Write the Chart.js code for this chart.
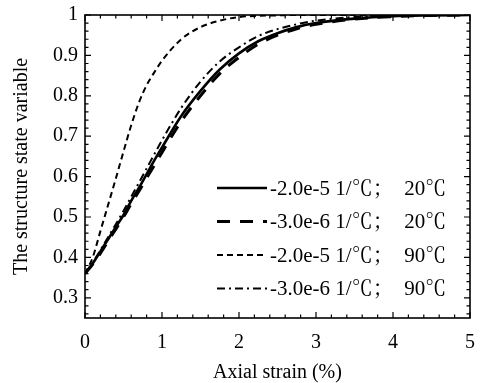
<!DOCTYPE html>
<html>
<head>
<meta charset="utf-8">
<script src="https://cdn.jsdelivr.net/npm/chart.js@4/dist/chart.umd.min.js"></script>
<style>
  html, body { margin: 0; padding: 0; background: #fff; }
  #wrap { width: 480px; height: 383px; }
</style>
</head>
<body>
<div id="wrap"><canvas id="myChart" width="480" height="383"></canvas></div>
<script>
'use strict';

// axial strain (%) sample points shared by all curves
var strain = [0, 0.1, 0.2, 0.3, 0.4, 0.5, 0.6, 0.7, 0.8, 0.9, 1.0,
  1.25, 1.5, 1.75, 2.0, 2.25, 2.5, 2.75, 3.0, 3.5, 4.0, 4.5, 5.0];

// structure state variable
var s20a = [0.36, 0.385, 0.415, 0.445, 0.475, 0.505, 0.54, 0.572, 0.606, 0.64, 0.672,
  0.75, 0.812, 0.865, 0.905, 0.935, 0.955, 0.97, 0.98, 0.991, 0.997, 0.999, 1.0];
var s20b = [0.36, 0.383, 0.41, 0.44, 0.47, 0.5, 0.533, 0.564, 0.596, 0.628, 0.66,
  0.737, 0.8, 0.855, 0.895, 0.928, 0.95, 0.966, 0.977, 0.99, 0.996, 0.999, 1.0];
var s90a = [0.36, 0.4, 0.465, 0.53, 0.595, 0.662, 0.727, 0.783, 0.826, 0.858, 0.887,
  0.94, 0.97, 0.986, 0.995, 0.998, 0.999, 1.0, 1.0, 1.0, 1.0, 1.0, 1.0];
var s90b = [0.36, 0.387, 0.418, 0.45, 0.482, 0.515, 0.55, 0.585, 0.62, 0.655, 0.69,
  0.77, 0.835, 0.885, 0.92, 0.948, 0.965, 0.977, 0.986, 0.995, 0.998, 1.0, 1.0];

var labels = ['-2.0e-5 1/℃；  20℃', '-3.0e-6 1/℃；  20℃', '-2.0e-5 1/℃；  90℃', '-3.0e-6 1/℃；  90℃'];
var xTicks = [0, 1, 2, 3, 4, 5];
var yTicks = [0.3, 0.4, 0.5, 0.6, 0.7, 0.8, 0.9, 1.0];

var SERIF = "'Liberation Serif', 'Times New Roman', 'Noto Serif CJK SC', 'Noto Sans CJK SC', serif";

function pts(ys) {
  return strain.map(function (x, i) { return { x: x, y: ys[i] }; });
}

function line(label, ys, dash, width) {
  return {
    label: label,
    data: pts(ys),
    borderColor: '#000',
    borderWidth: width,
    borderDash: dash,
    pointRadius: 0,
    fill: false,
    cubicInterpolationMode: 'monotone'
  };
}

// frame + inward major/minor ticks on all four sides
var frameTicks = {
  id: 'frameTicks',
  afterDraw: function (chart) {
    var ctx = chart.ctx;
    var a = chart.chartArea;
    var xs = chart.scales.x, ys = chart.scales.y;
    var i, p, major;
    ctx.save();
    ctx.strokeStyle = '#000';
    ctx.lineWidth = 1.2;
    ctx.setLineDash([]);
    ctx.beginPath();
    for (i = 0; i <= 25; i++) {
      p = xs.getPixelForValue(i * 0.2);
      major = i % 5 === 0;
      var lx = major ? 6 : 3.5;
      ctx.moveTo(p, a.bottom); ctx.lineTo(p, a.bottom - lx);
      ctx.moveTo(p, a.top); ctx.lineTo(p, a.top + lx);
    }
    for (i = 0; i <= 37; i++) {
      var v = 0.26 + i * 0.02;
      p = ys.getPixelForValue(v);
      major = Math.abs(Math.round(v * 10) - v * 10) < 1e-6;
      var ly = major ? 6 : 3.5;
      ctx.moveTo(a.left, p); ctx.lineTo(a.left + ly, p);
      ctx.moveTo(a.right, p); ctx.lineTo(a.right - ly, p);
    }
    ctx.stroke();
    ctx.lineWidth = 1.6;
    ctx.strokeRect(a.left, a.top, a.right - a.left, a.bottom - a.top);
    ctx.restore();
  }
};

// legend drawn inside the plot, lower right
var insideLegend = {
  id: 'insideLegend',
  afterDatasetsDraw: function (chart) {
    var ctx = chart.ctx;
    var a = chart.chartArea;
    var x0 = a.right - 253, x1 = a.right - 203, tx = a.right - 200;
    ctx.save();
    ctx.font = '21px ' + SERIF;
    ctx.fillStyle = '#000';
    ctx.textBaseline = 'middle';
    chart.data.datasets.forEach(function (ds, i) {
      var y = a.bottom - 130 + i * 33.5;
      ctx.strokeStyle = '#000';
      ctx.lineWidth = ds.borderWidth;
      ctx.setLineDash(ds.borderDash);
      ctx.beginPath();
      ctx.moveTo(x0, y);
      ctx.lineTo(x1, y);
      ctx.stroke();
      ctx.fillText(ds.label, tx, y + 1);
    });
    ctx.restore();
  }
};

var ctx = document.getElementById('myChart');

new Chart(ctx, {
  type: 'line',
  data: {
    datasets: [
      line(labels[0], s20a, [], 2.6),
      line(labels[1], s20b, [13, 10], 3),
      line(labels[2], s90a, [6, 4], 2),
      line(labels[3], s90b, [8, 4, 2, 4], 2)
    ]
  },
  options: {
    responsive: false,
    animation: false,
    layout: { autoPadding: false, padding: { left: 0, right: 10, top: 15, bottom: 0 } },
    plugins: {
      legend: { display: false },
      tooltip: { enabled: false }
    },
    scales: {
      x: {
        type: 'linear',
        min: 0,
        max: 5,
        afterFit: function (scale) {
          scale.height = 65;
          scale.paddingLeft = 0;
          scale.paddingRight = 0;
        },
        afterBuildTicks: function (scale) {
          scale.ticks = xTicks.map(function (v) { return { value: v }; });
        },
        grid: { display: false, drawTicks: false },
        border: { display: false },
        ticks: {
          color: '#000',
          padding: 13,
          maxRotation: 0,
          font: { family: SERIF, size: 20 },
          callback: function (v) { return String(v); }
        },
        title: {
          display: true,
          text: 'Axial strain (%)',
          color: '#000',
          padding: { top: 0, bottom: -2 },
          font: { family: SERIF, size: 20 }
        }
      },
      y: {
        type: 'linear',
        min: 0.25,
        max: 1,
        afterFit: function (scale) {
          scale.width = 85;
          scale.paddingTop = 0;
          scale.paddingBottom = 0;
        },
        afterBuildTicks: function (scale) {
          scale.ticks = yTicks.map(function (v) { return { value: v }; });
        },
        grid: { display: false, drawTicks: false },
        border: { display: false },
        ticks: {
          color: '#000',
          padding: 7,
          font: { family: SERIF, size: 20 },
          callback: function (v) { return String(Math.round(v * 10) / 10); }
        },
        title: {
          display: true,
          text: 'The structure state variable',
          color: '#000',
          padding: { top: 10, bottom: 0 },
          font: { family: SERIF, size: 20 }
        }
      }
    }
  },
  plugins: [frameTicks, insideLegend]
});
</script>
</body>
</html>
